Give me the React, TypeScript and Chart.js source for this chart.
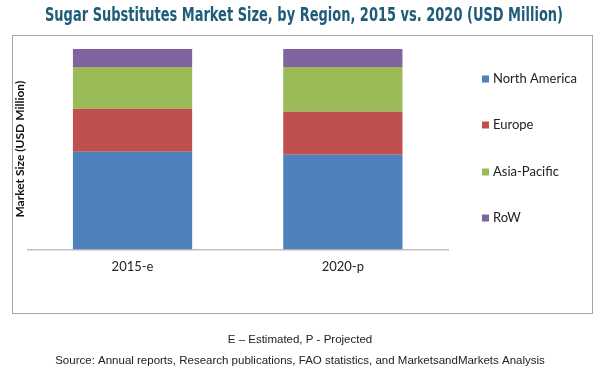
import React, { useEffect, useRef } from "react";
import { Chart, registerables } from "chart.js";

Chart.register(...registerables);

const categories = ["2015-e", "2020-p"];
const seriesNames = ["North America", "Europe", "Asia-Pacific", "RoW"];
const northAmerica = [98, 95];
const europe = [43, 43];
const asiaPacific = [42, 45];
const row = [18, 18];
const seriesColors = ["#4f81bd", "#c0504d", "#9bbb59", "#8064a2"];
const titleText = "Sugar Substitutes Market Size, by Region, 2015 vs. 2020 (USD Million)";
const yTitle = "Market Size (USD Million)";
const footnote = "E \u2013 Estimated, P - Projected";
const sourceText = "Source: Annual reports, Research publications, FAO statistics, and MarketsandMarkets Analysis";

const decorPlugin = {
  id: "decor",
  beforeDraw(chart: any) {
    const ctx = chart.ctx;
    ctx.save();
    ctx.fillStyle = "#ffffff";
    ctx.fillRect(0, 0, chart.width, chart.height);
    ctx.strokeStyle = "#a6a6a6";
    ctx.lineWidth = 1;
    ctx.strokeRect(12.5, 35.5, 580, 278);
    ctx.restore();
  },
  afterDraw(chart: any) {
    const ctx = chart.ctx;
    ctx.save();
    // title
    ctx.textAlign = "center";
    ctx.textBaseline = "middle";
    ctx.fillStyle = "#1f5c78";
    try {
      (ctx as any).fontStretch = "condensed";
    } catch (e) {}
    ctx.font = "bold 19px 'DejaVu Sans'";
    ctx.fillText(titleText, 304, 16, 518);
    try {
      (ctx as any).fontStretch = "normal";
    } catch (e) {}
    // legend
    const rows = [79, 125, 172, 218];
    ctx.font = "13px Lato";
    ctx.textAlign = "left";
    chart.data.datasets.forEach((ds: any, i: number) => {
      const y = rows[i];
      ctx.fillStyle = ds.backgroundColor;
      ctx.fillRect(482, y - 3.5, 7, 7);
      ctx.fillStyle = "#222222";
      ctx.fillText(ds.label, 493, y);
    });
    // footer
    ctx.textAlign = "center";
    ctx.fillStyle = "#222222";
    ctx.font = "11.5px 'Liberation Sans'";
    ctx.fillText(footnote, 300, 340);
    ctx.fillText(sourceText, 300, 361);
    ctx.restore();
  },
};

export default function App() {
  const ref = useRef<HTMLCanvasElement | null>(null);
  useEffect(() => {
    document.body.style.margin = "0";
    const data = [northAmerica, europe, asiaPacific, row];
    const chart = new Chart(ref.current as HTMLCanvasElement, {
      type: "bar",
      data: {
        labels: categories,
        datasets: seriesNames.map((name, i) => ({
          label: name,
          data: data[i],
          backgroundColor: seriesColors[i],
          borderWidth: 0,
          categoryPercentage: 1,
          barPercentage: 0.567,
        })),
      },
      options: {
        animation: false,
        responsive: false,
        devicePixelRatio: 1,
        layout: { padding: { left: 9, right: 152, top: 49, bottom: 89 } },
        plugins: {
          legend: { display: false },
          tooltip: { enabled: false },
          title: { display: false },
        },
        scales: {
          x: {
            stacked: true,
            grid: { display: false, drawTicks: false },
            border: { display: true, color: "#bfbfbf", width: 1.5 },
            ticks: { color: "#222222", font: { family: "Lato", size: 13 }, padding: 10 },
          },
          y: {
            stacked: true,
            min: 0,
            max: 201,
            grid: { display: false, drawTicks: false },
            border: { display: false },
            ticks: { display: false },
            title: {
              display: true,
              text: yTitle,
              color: "#111111",
              font: { family: "Lato", size: 12, weight: "bold" },
              padding: { top: 4, bottom: 0 },
            },
          },
        },
      },
      plugins: [decorPlugin],
    });
    return () => chart.destroy();
  }, []);
  return (
    <div style={{ position: "relative", width: 600, height: 374 }}>
      <canvas ref={ref} width={600} height={374} style={{ display: "block" }} />
    </div>
  );
}
